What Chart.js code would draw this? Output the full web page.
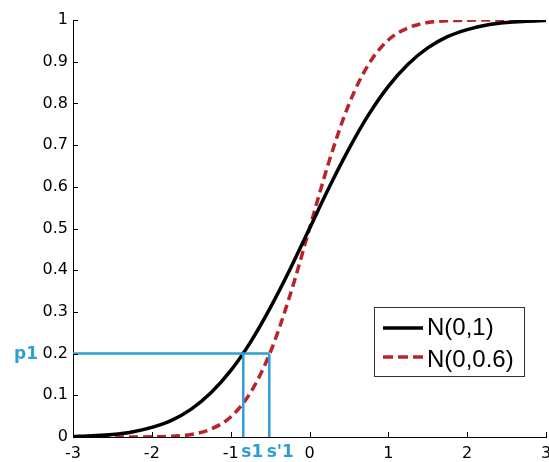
<!DOCTYPE html>
<html>
<head>
<meta charset="utf-8">
<script src="https://cdn.jsdelivr.net/npm/chart.js@4.4.0/dist/chart.umd.min.js"></script>
<style>
  html, body { margin: 0; padding: 0; background: #fff; }
  #wrap { width: 549px; height: 462px; }
</style>
</head>
<body>
<div id="wrap"><canvas id="chart" width="549" height="462"></canvas></div>
<script>
// values
const xs = [-3, -2.75, -2.5, -2.25, -2, -1.75, -1.5, -1.25, -1, -0.75, -0.5, -0.25, 0,
  0.25, 0.5, 0.75, 1, 1.25, 1.5, 1.75, 2, 2.25, 2.5, 2.75, 3];
const normStd = [0.001, 0.003, 0.006, 0.012, 0.023, 0.040, 0.067, 0.106, 0.159, 0.227, 0.309, 0.401, 0.5,
  0.599, 0.691, 0.773, 0.841, 0.894, 0.933, 0.960, 0.977, 0.988, 0.994, 0.997, 0.999];
const normNarrow = [0, 0, 0, 0.0001, 0.0004, 0.002, 0.006, 0.019, 0.048, 0.106, 0.202, 0.338, 0.5,
  0.662, 0.798, 0.894, 0.952, 0.981, 0.994, 0.998, 0.9996, 0.9999, 1, 1, 1];
const seriesNames = ["N(0,1)", "N(0,0.6)"];
const p1 = 0.2;
const s1 = -0.84;
const s1prime = -0.51;
const xTicks = [-3, -2, -1, 0, 1, 2, 3];

const BLUE = "#2f9fd2";
const RED = "#b8242b";
const TICK_FONT = "'DejaVu Sans', sans-serif";
const LEGEND_FONT = "'Liberation Sans', Arial, sans-serif";

const toPoints = (ys) => xs.map((x, i) => ({ x: x, y: ys[i] }));

// inward tick marks, blue labels and the legend box
const decorations = {
  id: "decorations",
  afterDraw(chart) {
    const { ctx, chartArea } = chart;
    const xScale = chart.scales.x;
    const yScale = chart.scales.y;
    ctx.save();
    ctx.strokeStyle = "#000";
    ctx.lineWidth = 1;
    ctx.beginPath();
    for (const t of xTicks) {
      const px = Math.round(xScale.getPixelForValue(t)) + 0.5;
      ctx.moveTo(px, chartArea.bottom);
      ctx.lineTo(px, chartArea.bottom - 5);
    }
    for (let v = 0; v <= 10; v++) {
      const py = Math.round(yScale.getPixelForValue(v / 10)) + 0.5;
      ctx.moveTo(chartArea.left, py);
      ctx.lineTo(chartArea.left + 5, py);
    }
    ctx.stroke();

    // blue labels
    ctx.fillStyle = BLUE;
    ctx.font = "bold 17px " + TICK_FONT;
    ctx.textBaseline = "middle";
    ctx.textAlign = "right";
    ctx.fillText("p1", 38, yScale.getPixelForValue(p1) + 1);
    ctx.textAlign = "center";
    ctx.fillText("s1", xScale.getPixelForValue(s1) + 9, chartArea.bottom + 16);
    ctx.fillText("s'1", xScale.getPixelForValue(s1prime) + 11, chartArea.bottom + 16);

    // legend
    const lx = 374, ly = 307, lw = 150, lh = 69;
    ctx.fillStyle = "#fff";
    ctx.fillRect(lx, ly, lw, lh);
    ctx.strokeStyle = "#333";
    ctx.lineWidth = 1;
    ctx.strokeRect(lx + 0.5, ly + 0.5, lw, lh);
    ctx.lineWidth = 3.5;
    ctx.strokeStyle = "#000";
    ctx.beginPath();
    ctx.moveTo(lx + 9, ly + 21);
    ctx.lineTo(lx + 49, ly + 21);
    ctx.stroke();
    ctx.strokeStyle = RED;
    ctx.setLineDash([10, 5]);
    ctx.beginPath();
    ctx.moveTo(lx + 9, ly + 50);
    ctx.lineTo(lx + 49, ly + 50);
    ctx.stroke();
    ctx.setLineDash([]);
    ctx.fillStyle = "#000";
    ctx.font = "24px " + LEGEND_FONT;
    ctx.textAlign = "left";
    ctx.fillText(seriesNames[0], lx + 53, ly + 21);
    ctx.fillText(seriesNames[1], lx + 53, ly + 53);
    ctx.restore();
  }
};

new Chart(document.getElementById("chart"), {
  type: "line",
  data: {
    datasets: [
      {
        label: "p1 line",
        data: [{ x: -3, y: p1 }, { x: s1prime, y: p1 }],
        borderColor: BLUE,
        borderWidth: 2.5,
        pointRadius: 0,
        tension: 0,
      },
      {
        label: "s1 line",
        data: [{ x: s1, y: 0 }, { x: s1, y: p1 }],
        borderColor: BLUE,
        borderWidth: 2.5,
        pointRadius: 0,
        tension: 0,
      },
      {
        label: "s'1 line",
        data: [{ x: s1prime, y: 0 }, { x: s1prime, y: p1 }],
        borderColor: BLUE,
        borderWidth: 2.5,
        pointRadius: 0,
        tension: 0,
      },
      {
        label: seriesNames[0],
        data: toPoints(normStd),
        borderColor: "#000",
        borderWidth: 3.5,
        pointRadius: 0,
        cubicInterpolationMode: "monotone",
      },
      {
        label: seriesNames[1],
        data: toPoints(normNarrow),
        borderColor: RED,
        borderWidth: 3.5,
        borderDash: [9, 5],
        pointRadius: 0,
        cubicInterpolationMode: "monotone",
      },
    ],
  },
  options: {
    responsive: false,
    animation: false,
    layout: { padding: { top: 20, right: 3, left: 0, bottom: 0 } },
    plugins: {
      legend: { display: false },
      tooltip: { enabled: false },
    },
    scales: {
      x: {
        type: "linear",
        min: -3,
        max: 3,
        afterBuildTicks: (scale) => {
          scale.ticks = xTicks.map((v) => ({ value: v }));
        },
        afterFit: (scale) => {
          scale.height = 25;
          scale.paddingLeft = 0;
          scale.paddingRight = 0;
        },
        grid: { display: false, drawTicks: false },
        border: { display: true, color: "#000", width: 1 },
        ticks: {
          color: "#000",
          font: { family: TICK_FONT, size: 16 },
          padding: 7,
          maxRotation: 0,
          autoSkip: false,
        },
      },
      y: {
        type: "linear",
        min: 0,
        max: 1,
        afterFit: (scale) => {
          scale.width = 73;
          scale.paddingTop = 0;
          scale.paddingBottom = 0;
        },
        grid: { display: false, drawTicks: false },
        border: { display: true, color: "#000", width: 1 },
        ticks: {
          stepSize: 0.1,
          color: "#000",
          font: { family: TICK_FONT, size: 16 },
          padding: 5,
          callback: (v) => String(Math.round(v * 10) / 10),
        },
      },
    },
  },
  plugins: [decorations],
});
</script>
</body>
</html>
